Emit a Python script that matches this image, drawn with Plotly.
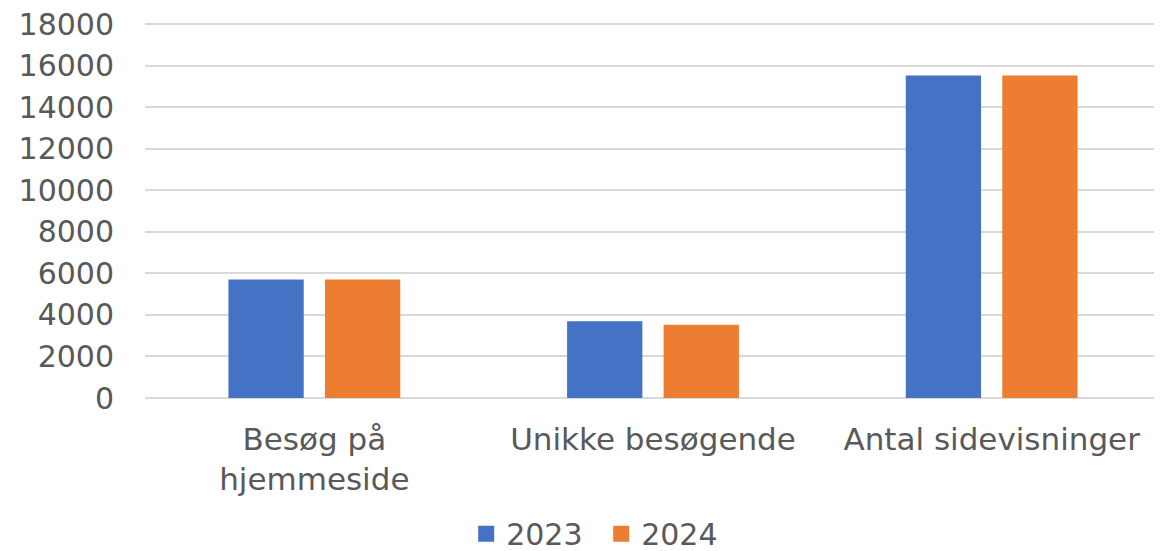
import plotly.graph_objects as go

categories = ["Besøg på<br>hjemmeside", "Unikke besøgende", "Antal sidevisninger"]
series_names = ["2023", "2024"]
values_2023 = [5700, 3700, 15520]
values_2024 = [5700, 3520, 15520]
colors = ["#4472C4", "#ED7D31"]
tick_vals = list(range(0, 18001, 2000))
tick_text = [str(v) for v in tick_vals]

FONT = "DejaVu Sans"

fig = go.Figure()
for name, vals, col in zip(series_names, [values_2023, values_2024], colors):
    fig.add_trace(go.Bar(x=categories, y=vals, name=name, marker_color=col,
                         marker_line_width=0, showlegend=False))
for name, col in zip(series_names, colors):
    fig.add_trace(go.Scatter(x=[None], y=[None], mode="markers", name=name,
                             marker=dict(symbol="square", size=17, color=col)))

fig.update_layout(
    width=1154, height=543,
    margin=dict(l=137, r=1, t=15, b=153, autoexpand=False),
    paper_bgcolor="white", plot_bgcolor="white",
    font=dict(family=FONT, size=30, color="#595959"),
    barmode="group", bargap=0.43, bargroupgap=0.22,
    legend=dict(orientation="h", x=0.449, xanchor="center", y=-0.362, yanchor="middle",
                font=dict(size=30), itemwidth=30, tracegroupgap=0, entrywidth=90),
    xaxis=dict(showgrid=False, showline=False, ticks="", tickfont=dict(size=31),
               automargin=False, ticklabelstandoff=20),
    yaxis=dict(range=[0, 18050], tickvals=tick_vals, ticktext=tick_text, showgrid=True,
               gridcolor="#D9D9D9", gridwidth=1.5, zeroline=True, zerolinecolor="#D9D9D9",
               zerolinewidth=1.5, ticks="", ticklabelstandoff=30, tickfont=dict(size=30),
               automargin=False, ticklabeloverflow="allow"),
)
fig.write_html("out.html")
